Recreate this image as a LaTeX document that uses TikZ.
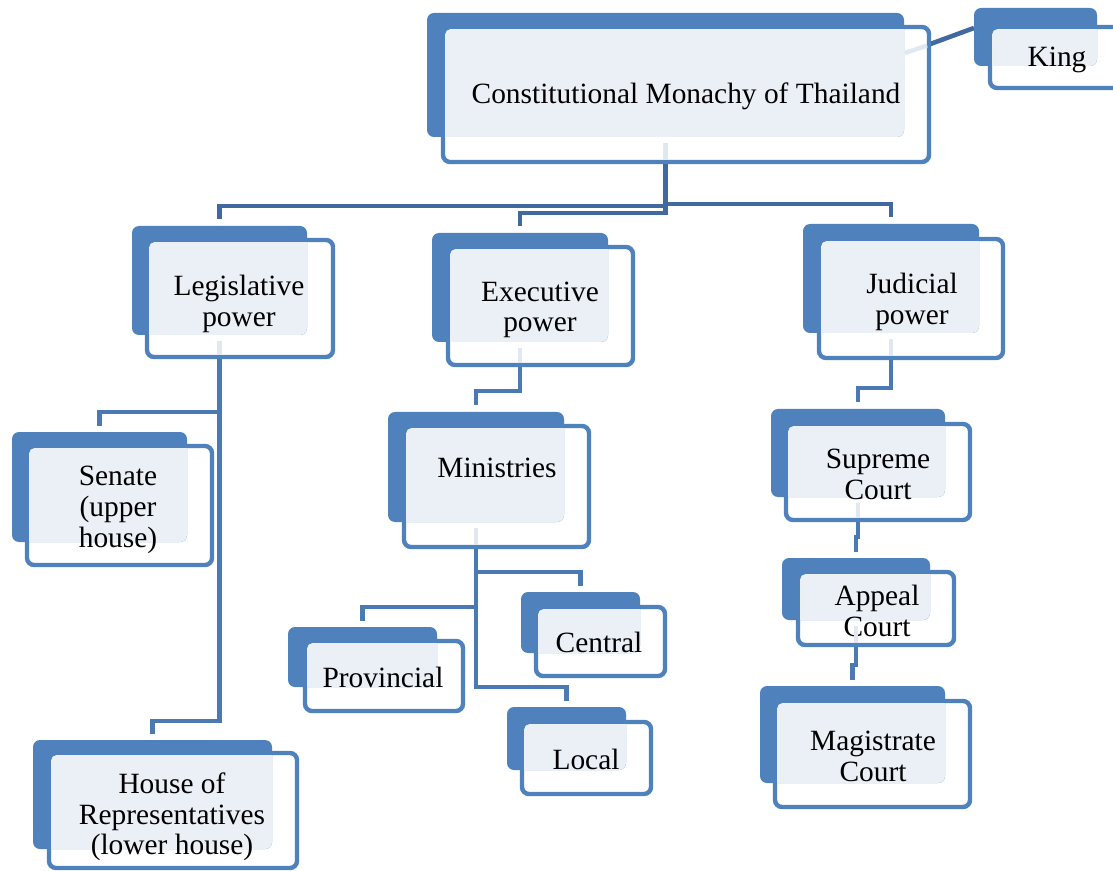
\documentclass[tikz,border=0pt]{standalone}
\usepackage{fontspec}
\setmainfont{Liberation Serif}
\usetikzlibrary{fit,calc,backgrounds}

\definecolor{boxblue}{HTML}{4F81BD}
\definecolor{boxtint}{HTML}{EBF0F7}
\definecolor{linkdark}{HTML}{41699D}
\definecolor{linkmid}{HTML}{4A79B4}
\definecolor{ghostline}{HTML}{E2E8F1}

\tikzset{
  frontbox/.style={draw=boxblue, line width=2.2pt, fill=white, rounded corners=3.5pt,
                   inner sep=0pt, outer sep=0pt},
  backbox/.style={fill=boxblue, rounded corners=3.5pt, inner sep=0pt, outer sep=0pt},
  caption/.style={font=\fontsize{14.7}{15.4}\selectfont, align=center, inner sep=0pt,
                  text=black, yshift=-1.4pt},
  link/.style={draw=linkdark, line width=2.3pt},
  sublink/.style={draw=linkmid, line width=2.3pt},
  ghost/.style={draw=ghostline, line width=2.2pt},
}

% #1 name, #2 back corners, #3 front corners, #4 caption position, #5 caption
\newcommand{\orgbox}[5]{%
  \node[frontbox, fit={#3}] (#1) {};
  \node[backbox, fit={#2}] (#1-back) {};
  \begin{scope}
    \clip[rounded corners=2.5pt] ($(#1.north west)+(2.2,2.2)$) rectangle ($(#1.south east)+(-2.2,-2.2)$);
    \fill[boxtint, rounded corners=3.5pt] (#1-back.north west) rectangle (#1-back.south east);
  \end{scope}
  \node[caption] (#1-text) at #4 {#5};
}

% faint stub of a connector seen through the front panel
\newcommand{\stub}[1]{%
  \draw[ghost] ($(#1-back.south)+(0,6)$) -- ($(#1-back.south |- #1.south)+(0,-2.2)$);
}

\begin{document}
\begin{tikzpicture}[x=0.5pt, y=-0.5pt]
\useasboundingbox (0,0) rectangle (1113,871);
\clip (0,0) rectangle (1113,871);

% boxes
\orgbox{top}{(427,13) (904,137)}{(443,27) (929,162)}{(686,94)}{Constitutional Monachy of Thailand}
\orgbox{king}{(974,8) (1097,66)}{(990,27) (1124,88)}{(1057,57)}{King}
\orgbox{leg}{(132,226) (307,335)}{(147,240) (333,357)}{(239,301)}{Legislative\\power}
\orgbox{exe}{(432,233) (608,342)}{(448,247) (633,365)}{(540,307)}{Executive\\power}
\orgbox{jud}{(803,224) (979,333)}{(819,239) (1003,358)}{(912,299)}{Judicial\\power}
\orgbox{sen}{(12,432) (187,542)}{(27,446) (212,565)}{(118,507)}{Senate\\(upper\\house)}
\orgbox{hou}{(33,740) (272,849)}{(49,753) (297,868)}{(172,814)}{House of\\Representatives\\(lower house)}
\orgbox{min}{(388,412) (564,522)}{(404,426) (589,547)}{(497,465)}{Ministries}
\orgbox{pro}{(288,627) (437,687)}{(305,641) (463,711)}{(383,675)}{Provincial}
\orgbox{cen}{(521,592) (640,653)}{(536,607) (665,676)}{(599,640)}{Central}
\orgbox{loc}{(507,707) (626,770)}{(522,722) (651,794)}{(586,757)}{Local}
\orgbox{sup}{(771,409) (945,497)}{(786,424) (970,520)}{(878,472)}{Supreme\\Court}
\orgbox{app}{(782,558) (930,620)}{(798,572) (954,645)}{(877,608)}{Appeal\\Court}
\orgbox{mag}{(760,686) (945,783)}{(775,701) (970,807)}{(873,754)}{Magistrate\\Court}

% faint connector stubs inside the front panels
\stub{top} \stub{leg} \stub{exe} \stub{jud} \stub{min} \stub{sup} \stub{app}
\draw[ghost] ($(top-back.east)+(1,-22)$) -- ($(top.east)+(-2,-49)$);

% connectors, behind the boxes
\begin{pgfonlayer}{background}
  \coordinate (yl) at (0,206);
  \coordinate (yr) at (0,204);
  \coordinate (ye) at (0,213);
  \coordinate (ysen) at (0,412);
  \coordinate (yhou) at (0,721);
  \coordinate (ymin) at (0,391);
  \coordinate (ycen) at (0,572);
  \coordinate (ypro) at (0,607);
  \coordinate (yloc) at (0,687);
  \coordinate (ysup) at (0,388);
  \coordinate (yapp) at (0,537);
  \coordinate (ymag) at (0,665);

  % top level
  \draw[link] (top-back.south) -- (top-back.south |- yl) -| ($(leg-back.north)+(0,-6.5)$);
  \draw[link] (top-back.south |- yr) -| ($(jud-back.north)+(0,-6.5)$);
  \draw[link] (top-back.south) -- (top-back.south |- ye) -| ($(exe-back.north)+(0,-6.5)$);
  \draw[link] ($(top.east)+(0,-50)$) -- ($(king-back.west)+(0,-9)$);

  % legislative branch
  \draw[sublink] (leg-back.south) -- (leg-back.south |- yhou) -| ($(hou-back.north)+(0,-6.5)$);
  \draw[sublink] (leg-back.south |- ysen) -| ($(sen-back.north)+(0,-6.5)$);

  % executive branch
  \draw[sublink] (exe-back.south) -- (exe-back.south |- ymin) -| ($(min-back.north)+(0,-6.5)$);
  \draw[sublink] (min-back.south) -- (min-back.south |- yloc) -| ($(loc-back.north)+(0,-6.5)$);
  \draw[sublink] (min-back.south |- ycen) -| ($(cen-back.north)+(0,-6.5)$);
  \draw[sublink] (min-back.south |- ypro) -| ($(pro-back.north)+(0,-6.5)$);

  % judicial branch
  \draw[sublink] (jud-back.south) -- (jud-back.south |- ysup) -| ($(sup-back.north)+(0,-6.5)$);
  \draw[sublink] (sup-back.south) -- (sup-back.south |- yapp) -| ($(app-back.north)+(0,-6.5)$);
  \draw[sublink] (app-back.south) -- (app-back.south |- ymag) -| ($(mag-back.north)+(0,-6.5)$);
\end{pgfonlayer}
\end{tikzpicture}
\end{document}
